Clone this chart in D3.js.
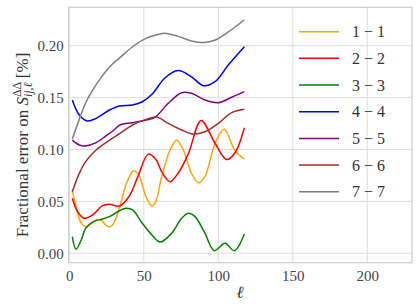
<!DOCTYPE html>
<html>
<head>
<meta charset="utf-8">
<script src="https://cdn.jsdelivr.net/npm/d3@7"></script>
<style>
  body { margin: 0; background: #fff; }
  svg text { font-family: "Liberation Serif", "DejaVu Serif", serif; }
</style>
</head>
<body>
<div id="chart"></div>
<script>
// series: [ell, fractional error]
var series11 = [[2,0.061],[4.5,0.045],[8,0.029],[11,0.0256],[17,0.0314],[21,0.032],[26,0.0256],[29,0.0273],[33.6,0.0433],[38,0.0658],[43,0.0793],[46,0.0771],[51.5,0.0545],[55.5,0.0456],[58,0.0497],[62,0.0738],[67.6,0.0995],[72,0.109],[76.5,0.0995],[82,0.0771],[86.6,0.068],[91,0.0738],[97.8,0.106],[104,0.1195],[111,0.0995],[117.5,0.0906]];
var series22 = [[2,0.053],[5.6,0.040],[10,0.0337],[15.7,0.0369],[22,0.0456],[27,0.0472],[33.6,0.0456],[40,0.0545],[46,0.0738],[53,0.0955],[58,0.0905],[62,0.0786],[67.6,0.069],[73,0.0771],[80,0.0963],[88.5,0.128],[97.8,0.106],[105.6,0.0903],[111,0.0963],[117.5,0.121]];
var series33 = [[2,0.016],[4.5,0.0039],[8,0.0128],[11,0.024],[17,0.031],[22,0.0328],[28,0.036],[33.6,0.041],[38,0.0433],[42.5,0.0417],[49,0.0289],[56,0.0167],[61,0.0108],[68.7,0.0193],[75.4,0.0337],[80,0.0385],[84.4,0.0353],[91,0.0193],[97.3,0.0025],[104.5,0.0096],[110.7,0.0025],[117.5,0.0186]];
var series44 = [[2,0.1477],[6.7,0.1332],[12,0.1275],[18,0.130],[27,0.138],[33.6,0.1419],[42.5,0.1429],[49,0.146],[56,0.154],[64,0.1686],[73,0.176],[82,0.170],[90,0.1615],[97.8,0.1653],[106.7,0.1814],[117.5,0.199]];
var series55 = [[2,0.109],[6.7,0.1043],[11,0.1034],[18,0.1066],[24.6,0.113],[30,0.1188],[34,0.1236],[42.5,0.1258],[51.5,0.1284],[57.5,0.131],[66.4,0.1445],[75.4,0.1547],[82,0.1541],[91,0.1477],[100,0.1451],[109,0.1503],[117.5,0.1557]];
var series66 = [[2,0.0593],[6.7,0.077],[11,0.0883],[18,0.0995],[27,0.109],[34,0.1155],[42.5,0.1236],[51.5,0.129],[58.5,0.1312],[66.4,0.1252],[75.4,0.1188],[83,0.1149],[91,0.1171],[100,0.1252],[109,0.1355],[117.5,0.1387]];
var series77 = [[2,0.110],[6.7,0.129],[11,0.145],[16,0.158],[27,0.1795],[34,0.1885],[42.5,0.199],[51.5,0.207],[60,0.211],[64,0.212],[73,0.209],[82,0.2045],[90,0.203],[98,0.2055],[107,0.2135],[117.5,0.225]];

var seriesNames = ["1 \u2212 1", "2 \u2212 2", "3 \u2212 3", "4 \u2212 4", "5 \u2212 5", "6 \u2212 6", "7 \u2212 7"];
var seriesColors = ["orange", "red", "green", "blue", "purple", "brown", "gray"];
var allSeries = [series11, series22, series33, series44, series55, series66, series77];

var xTicks = [0, 50, 100, 150, 200];
var yTicks = [0.00, 0.05, 0.10, 0.15, 0.20];

var svgWidth = 416;
var svgHeight = 304;
var margin = { top: 7.3, right: 4, bottom: 41.3, left: 68.7 };
var width = svgWidth - margin.left - margin.right;
var height = svgHeight - margin.top - margin.bottom;

var svg = d3.select("#chart").append("svg")
    .attr("width", svgWidth)
    .attr("height", svgHeight);

var chartGroup = svg.append("g")
    .attr("transform", `translate(${margin.left}, ${margin.top})`);

var xScale = d3.scaleLinear().domain([-0.4, 230]).range([0, width]);
var yScale = d3.scaleLinear().domain([-0.0091, 0.237]).range([height, 0]);

// grid
chartGroup.append("g").selectAll("line")
    .data(xTicks).enter().append("line")
    .attr("x1", d => xScale(d)).attr("x2", d => xScale(d))
    .attr("y1", 0).attr("y2", height)
    .attr("stroke", "#dedede").attr("stroke-width", 1);
chartGroup.append("g").selectAll("line")
    .data(yTicks).enter().append("line")
    .attr("x1", 0).attr("x2", width)
    .attr("y1", d => yScale(d)).attr("y2", d => yScale(d))
    .attr("stroke", "#dedede").attr("stroke-width", 1);

// axes (labels only)
var bottomAxis = d3.axisBottom(xScale).tickValues(xTicks).tickSize(0).tickPadding(8).tickFormat(d3.format("d"));
var leftAxis = d3.axisLeft(yScale).tickValues(yTicks).tickSize(0).tickPadding(5).tickFormat(d3.format(".2f"));

var xAxis = chartGroup.append("g")
    .attr("transform", `translate(0, ${height})`)
    .call(bottomAxis);
var yAxis = chartGroup.append("g").call(leftAxis);
[xAxis, yAxis].forEach(function(a) {
    a.select(".domain").remove();
    a.selectAll("text")
        .style("font-family", "'Liberation Serif', serif")
        .style("font-size", "15px")
        .attr("fill", "#444");
});

// curves
var line = d3.line()
    .x(d => xScale(d[0]))
    .y(d => yScale(d[1]))
    .curve(d3.curveCatmullRom.alpha(0.5));

chartGroup.append("g").selectAll("path")
    .data(allSeries).enter().append("path")
    .attr("d", d => line(d))
    .attr("fill", "none")
    .attr("stroke", (d, i) => seriesColors[i])
    .attr("stroke-width", 1.5);

// frame
chartGroup.append("rect")
    .attr("x", 0).attr("y", 0)
    .attr("width", width).attr("height", height)
    .attr("fill", "none")
    .attr("stroke", "#cccccc")
    .attr("stroke-width", 1.2);

// legend
var legend = svg.append("g").attr("transform", "translate(299, 31.7)");
var rows = legend.selectAll("g")
    .data(seriesNames).enter().append("g")
    .attr("transform", (d, i) => `translate(0, ${i * 26.67})`);
rows.append("line")
    .attr("x1", 0).attr("x2", 40)
    .attr("stroke", (d, i) => seriesColors[i])
    .attr("stroke-width", 1.5);
rows.append("text")
    .attr("x", 53).attr("y", 5.5)
    .style("font-size", "16px")
    .attr("fill", "#333")
    .text(d => d);

// x label
svg.append("text")
    .attr("x", 240).attr("y", 298)
    .attr("text-anchor", "middle")
    .style("font-size", "17px")
    .style("font-style", "italic")
    .attr("fill", "#333")
    .text("\u2113");

// y label with stacked super/subscript
var yLab = svg.append("text")
    .attr("transform", "translate(28, 145) rotate(-90)")
    .attr("text-anchor", "middle")
    .style("font-size", "17px")
    .attr("fill", "#333");
yLab.append("tspan").text("Fractional error on ");
yLab.append("tspan").style("font-style", "italic").text("S");
var sup = yLab.append("tspan")
    .attr("dy", -7)
    .style("font-size", "12px")
    .text("\u0394\u0394");
var supLen = sup.node().getComputedTextLength();
yLab.append("tspan")
    .attr("dx", -supLen)
    .attr("dy", 11)
    .style("font-size", "12px")
    .style("font-style", "italic")
    .text("ij,\u2113");
yLab.append("tspan")
    .attr("dy", -4)
    .text(" [%]");
</script>
</body>
</html>
